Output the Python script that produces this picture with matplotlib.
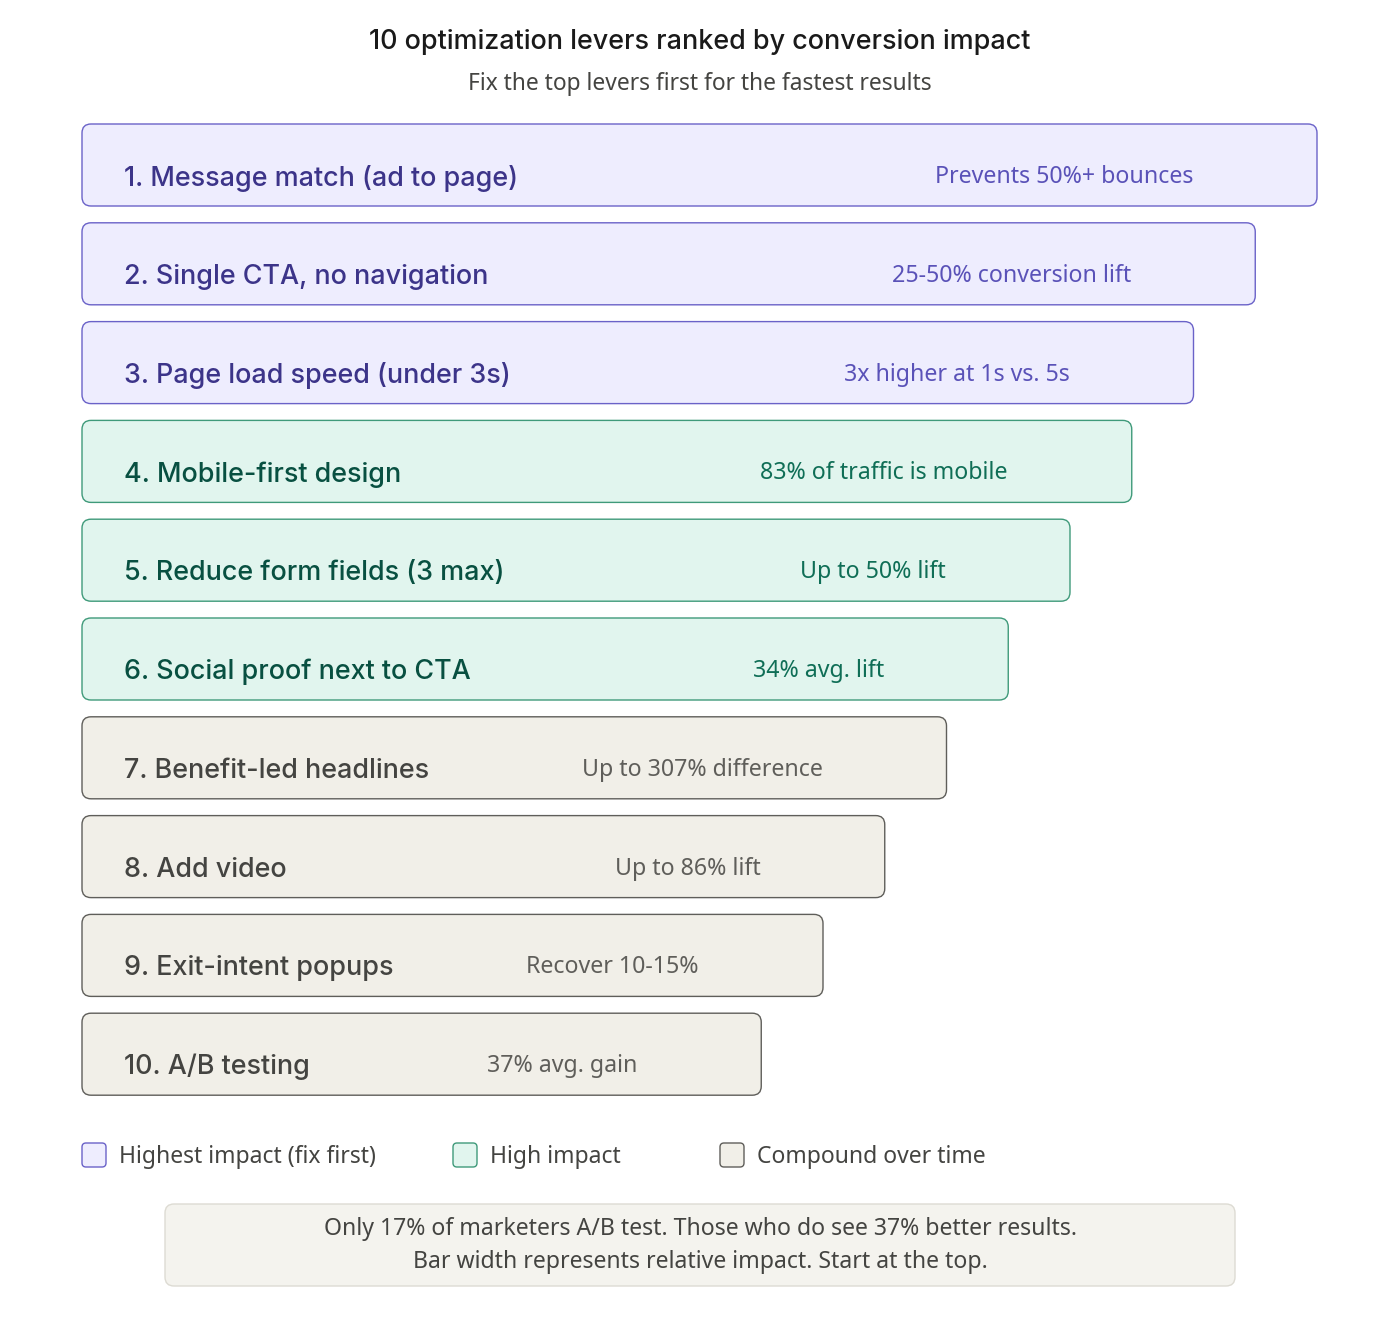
import matplotlib
matplotlib.use("Agg")
import matplotlib.pyplot as plt
from matplotlib.patches import FancyBboxPatch

plt.rcParams["font.family"] = ["Noto Sans", "DejaVu Sans"]
STRONG = ["Inter", "DejaVu Sans"]  # has real medium / semibold weights

# ── data ──
levers = [
    "1. Message match (ad to page)",
    "2. Single CTA, no navigation",
    "3. Page load speed (under 3s)",
    "4. Mobile-first design",
    "5. Reduce form fields (3 max)",
    "6. Social proof next to CTA",
    "7. Benefit-led headlines",
    "8. Add video",
    "9. Exit-intent popups",
    "10. A/B testing",
]
stats = [
    "Prevents 50%+ bounces",
    "25-50% conversion lift",
    "3x higher at 1s vs. 5s",
    "83% of traffic is mobile",
    "Up to 50% lift",
    "34% avg. lift",
    "Up to 307% difference",
    "Up to 86% lift",
    "Recover 10-15%",
    "37% avg. gain",
]
impact = [100, 95, 90, 85, 80, 75, 70, 65, 60, 55]
tier = [0, 0, 0, 1, 1, 1, 2, 2, 2, 2]
tier_names = ["Highest impact (fix first)", "High impact", "Compound over time"]

# ── styles per tier ──
FILL = ["#EEEDFE", "#E1F5EE", "#F1EFE8"]
EDGE = ["#6A62C8", "#3F9A7A", "#5F5E5A"]
LABEL_C = ["#3C3489", "#085041", "#444441"]
STAT_C = ["#5A52B8", "#0F6E56", "#5F5E5A"]

W, H = 1400, 1318
fig = plt.figure(figsize=(W / 100, H / 100), dpi=100)
ax = fig.add_axes([0, 0, 1, 1])
ax.set_xlim(0, W)
ax.set_ylim(H, 0)
ax.axis("off")

ax.text(700, 42, "10 optimization levers ranked by conversion impact",
        ha="center", va="center", fontsize=19.4, fontweight=500,
        family=STRONG, color="#1a1a1a")
ax.text(700, 84, "Fix the top levers first for the fastest results",
        ha="center", va="center", fontsize=16.4, color="#444441")

x0 = 82
max_w = 1235
bar_h = 82
top0 = 124
step = 98.8

for i, (lab, st, v, t) in enumerate(zip(levers, stats, impact, tier)):
    w = max_w * v / 100
    y = top0 + i * step
    box = FancyBboxPatch((x0, y), w, bar_h,
                         boxstyle="round,pad=0,rounding_size=9",
                         facecolor=FILL[t], edgecolor=EDGE[t], linewidth=1.0)
    ax.add_patch(box)
    ax.text(x0 + 42, y + bar_h / 2 + 13, lab, ha="left", va="center",
            fontsize=19.4, fontweight=500, family=STRONG, color=LABEL_C[t])
    ax.text(x0 + w - 124, y + bar_h / 2 + 12, st, ha="right", va="center",
            fontsize=16.7, color=STAT_C[t])

# ── legend ──
leg_x = [82, 453, 720]
leg_y = 1155
for k, name in enumerate(tier_names):
    sq = FancyBboxPatch((leg_x[k], leg_y - 12), 24, 24,
                        boxstyle="round,pad=0,rounding_size=4",
                        facecolor=FILL[k], edgecolor=EDGE[k], linewidth=1.0)
    ax.add_patch(sq)
    ax.text(leg_x[k] + 37, leg_y + 2, name, ha="left", va="center",
            fontsize=16.5, color="#444441")

# ── footer note ──
note = FancyBboxPatch((165, 1204), 1070, 82,
                      boxstyle="round,pad=0,rounding_size=9",
                      facecolor="#F4F3EE", edgecolor="#DDDBD3", linewidth=1.0)
ax.add_patch(note)
ax.text(700, 1229, "Only 17% of marketers A/B test. Those who do see 37% better results.",
        ha="center", va="center", fontsize=16.6, color="#444441")
ax.text(700, 1262, "Bar width represents relative impact. Start at the top.",
        ha="center", va="center", fontsize=16.6, color="#444441")

fig.savefig("out.png", dpi=100, facecolor="white")
plt.close(fig)
